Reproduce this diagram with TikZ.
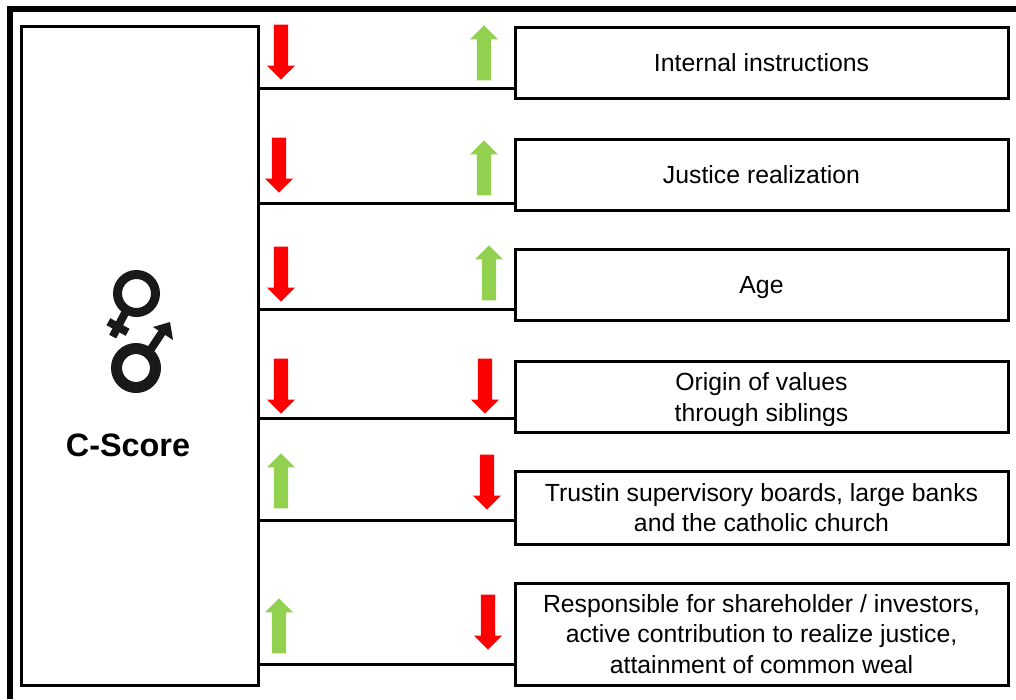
\documentclass[tikz,border=0pt]{standalone}
\usepackage{fontspec}
\setmainfont{Liberation Sans}
\usetikzlibrary{positioning,calc,shapes.arrows}
\definecolor{upgreen}{RGB}{146,208,80}
\newcommand{\firstline}[1]{\rule{0pt}{#1}}
\tikzset{
	itembox/.style={draw, line width=3pt, inner sep=0pt, minimum width=493pt, font=\fontsize{24.8}{30.5}\selectfont, align=center},
	hookline/.style={line width=3pt},
	downarrow/.style={single arrow, fill=red, inner sep=7pt, minimum height=55pt, single arrow head extend=7pt, single arrow head indent=0pt, shape border rotate=270, anchor=tip},
	uparrow/.style={single arrow, fill=upgreen, inner sep=7pt, minimum height=55pt, single arrow head extend=7pt, single arrow head indent=0pt, shape border rotate=90, anchor=tip},
	symbolline/.style={line width=8pt, color=black!90}
}
\begin{document}
\begin{tikzpicture}[x=1pt, y=-1pt]
	\useasboundingbox (0,0) rectangle (1016,699);
	\draw[line width=6pt] (10,699) -- (10,9) -- (1016,9);
	\node (cscore)	[draw, line width=3pt, minimum width=237pt, minimum height=659pt] at (139.5,355.5) {};
	\node (cscoretext) at (128,445) {\fontsize{32.4}{36}\selectfont\bfseries C-Score};

	\node (instructions)	[itembox, minimum height=71pt]	at (761.5,62.5)	{\firstline{19pt}Internal instructions};
	\node (justice)			[itembox, minimum height=71pt]	at (761.5,174.5)	{\firstline{19pt}Justice realization};
	\node (age)				[itembox, minimum height=71pt]	at (761.5,284.5)	{\firstline{24pt}Age};
	\node (origin)			[itembox, minimum height=71pt]	at (761.5,396.5)	{\firstline{24.5pt}Origin of values\\through siblings};
	\node (trust)			[itembox, minimum height=73pt]	at (761.5,507.5)	{Trustin supervisory boards, large banks\\and the catholic church};
	\node (responsible)		[itembox, minimum height=102pt]	at (761.5,634)	{Responsible for shareholder / investors,\\active contribution to realize justice,\\attainment of common weal};

	\coordinate (instructionsend)	at (instructions.west |- 0,88);
	\coordinate (justiceend)		at (justice.west |- 0,203);
	\coordinate (ageend)			at (age.west |- 0,309);
	\coordinate (originend)			at (origin.west |- 0,418);
	\coordinate (trustend)			at (trust.west |- 0,520);
	\coordinate (responsibleend)	at (responsible.west |- 0,664);
	\draw[hookline] (cscore.east |- instructionsend) -- (instructionsend);
	\draw[hookline] (cscore.east |- justiceend) -- (justiceend);
	\draw[hookline] (cscore.east |- ageend) -- (ageend);
	\draw[hookline] (cscore.east |- originend) -- (originend);
	\draw[hookline] (cscore.east |- trustend) -- (trustend);
	\draw[hookline] (cscore.east |- responsibleend) -- (responsibleend);

	\node (arrowa)	[downarrow]	at (281,80)		{};
	\node (arrowb)	[uparrow]	at (484,25)		{};
	\node (arrowc)	[downarrow]	at (279,193)	{};
	\node (arrowd)	[uparrow]	at (484,140)	{};
	\node (arrowe)	[downarrow]	at (281,302)	{};
	\node (arrowf)	[uparrow]	at (489,245)	{};
	\node (arrowg)	[downarrow]	at (281,414)	{};
	\node (arrowh)	[downarrow]	at (485,414)	{};
	\node (arrowi)	[uparrow]	at (281,453)	{};
	\node (arrowj)	[downarrow]	at (487,510)	{};
	\node (arrowk)	[uparrow]	at (279,598)	{};
	\node (arrowl)	[downarrow]	at (488,650)	{};

	\draw[symbolline, line width=9pt] (136.5,293.5) circle (19pt);
	\draw[symbolline] (125,313) -- (112.7,336.6);
	\draw[symbolline] (108.4,321.7) -- (127.6,332.3);
	\draw[symbolline, line width=11pt] (136,368) circle (19.5pt);
	\draw[symbolline] (149,352) -- (165,328);
	\fill[black!90] (170,322) -- (153,327) -- (173,340) -- cycle;
\end{tikzpicture}
\end{document}
